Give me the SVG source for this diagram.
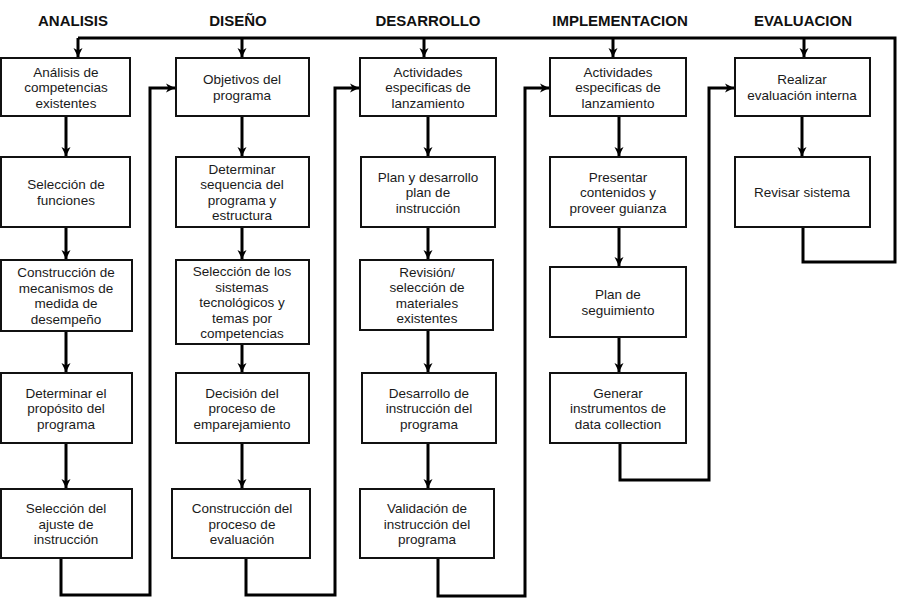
<svg xmlns="http://www.w3.org/2000/svg" width="897" height="606" viewBox="0 0 897 606">
<style>
.box{fill:#fff;stroke:#111;stroke-width:2}
.t{font-family:"Liberation Sans",Arial,sans-serif;font-size:13.5px;fill:#1a1a1a;text-anchor:middle}
.h{font-family:"Liberation Sans",Arial,sans-serif;font-size:15px;font-weight:bold;fill:#111;text-anchor:middle}
.c{fill:none;stroke:#000;stroke-width:3;stroke-linejoin:miter}
.a{fill:none;stroke:#000;stroke-width:3;marker-end:url(#ah)}
</style>
<defs>
<marker id="ah" markerUnits="userSpaceOnUse" markerWidth="10" markerHeight="10" refX="9" refY="5" orient="auto">
<path d="M0,0.5 L9,5 L0,9.5 L2.5,5 Z" fill="#000"/>
</marker>
</defs>
<rect width="897" height="606" fill="#fff"/>
<g id="headers">
<text class="h" x="73" y="26">ANALISIS</text>
<text class="h" x="238" y="26">DISEÑO</text>
<text class="h" x="428" y="26">DESARROLLO</text>
<text class="h" x="620" y="26">IMPLEMENTACION</text>
<text class="h" x="803" y="26">EVALUACION</text>
</g>
<g id="connectors">
<path class="c" d="M803,227 V262 H895 V38 H78"/>
<path class="a" d="M78,38 V57"/>
<path class="a" d="M242,38 V57"/>
<path class="a" d="M424,38 V57"/>
<path class="a" d="M613,38 V57"/>
<path class="a" d="M804,38 V57"/>
<path class="a" d="M66,116 V156"/>
<path class="a" d="M66,227 V259"/>
<path class="a" d="M66,331 V372"/>
<path class="a" d="M66,443 V488"/>
<path class="a" d="M242,116 V156"/>
<path class="a" d="M242,227 V259"/>
<path class="a" d="M242,344 V372"/>
<path class="a" d="M242,443 V488"/>
<path class="a" d="M428,116 V156"/>
<path class="a" d="M428,227 V259"/>
<path class="a" d="M428,330 V372"/>
<path class="a" d="M428,443 V488"/>
<path class="a" d="M619,116 V156"/>
<path class="a" d="M619,227 V266"/>
<path class="a" d="M619,337 V372"/>
<path class="a" d="M802,116 V156"/>
<path class="a" d="M61,558 V595 H150 V88 H175"/>
<path class="a" d="M246,558 V595 H335 V88 H359"/>
<path class="a" d="M438,558 V596 H525 V88 H549"/>
<path class="a" d="M620,443 V480 H709 V88 H734"/>
</g>
<g id="n1_1"><rect class="box" x="1" y="58" width="129" height="58"/><text class="t"><tspan x="66" y="76.5">Análisis de</tspan><tspan x="66" y="92">competencias</tspan><tspan x="66" y="107.5">existentes</tspan></text></g>
<g id="n1_2"><rect class="box" x="1" y="157" width="129" height="70"/><text class="t"><tspan x="66" y="189">Selección de</tspan><tspan x="66" y="205">funciones</tspan></text></g>
<g id="n1_3"><rect class="box" x="1" y="260" width="131" height="71"/><text class="t"><tspan x="66" y="277">Construcción de</tspan><tspan x="66" y="293">mecanismos de</tspan><tspan x="66" y="308">medida de</tspan><tspan x="66" y="324">desempeño</tspan></text></g>
<g id="n1_4"><rect class="box" x="1" y="373" width="131" height="70"/><text class="t"><tspan x="66" y="397.5">Determinar el</tspan><tspan x="66" y="413">propósito del</tspan><tspan x="66" y="428.5">programa</tspan></text></g>
<g id="n1_5"><rect class="box" x="1" y="489" width="131" height="69"/><text class="t"><tspan x="66" y="513">Selección del</tspan><tspan x="66" y="528.5">ajuste de</tspan><tspan x="66" y="544">instrucción</tspan></text></g>
<g id="n2_1"><rect class="box" x="176" y="58" width="133" height="58"/><text class="t"><tspan x="242" y="84">Objetivos del</tspan><tspan x="242" y="100">programa</tspan></text></g>
<g id="n2_2"><rect class="box" x="176" y="157" width="133" height="70"/><text class="t"><tspan x="242" y="174">Determinar</tspan><tspan x="242" y="189">sequencia del</tspan><tspan x="242" y="205">programa  y</tspan><tspan x="242" y="220">estructura</tspan></text></g>
<g id="n2_3"><rect class="box" x="176" y="260" width="133" height="84"/><text class="t"><tspan x="242" y="276">Selección de los</tspan><tspan x="242" y="291.5">sistemas</tspan><tspan x="242" y="307">tecnológicos  y</tspan><tspan x="242" y="322.5">temas por</tspan><tspan x="242" y="338">competencias</tspan></text></g>
<g id="n2_4"><rect class="box" x="176" y="373" width="133" height="70"/><text class="t"><tspan x="242" y="397.5">Decisión del</tspan><tspan x="242" y="413">proceso de</tspan><tspan x="242" y="428.5">emparejamiento</tspan></text></g>
<g id="n2_5"><rect class="box" x="172" y="489" width="138" height="69"/><text class="t"><tspan x="242" y="513">Construcción del</tspan><tspan x="242" y="528.5">proceso de</tspan><tspan x="242" y="544">evaluación</tspan></text></g>
<g id="n3_1"><rect class="box" x="360" y="58" width="136" height="58"/><text class="t"><tspan x="428" y="76.5">Actividades</tspan><tspan x="428" y="92">especificas de</tspan><tspan x="428" y="107.5">lanzamiento</tspan></text></g>
<g id="n3_2"><rect class="box" x="361" y="157" width="134" height="70"/><text class="t"><tspan x="428" y="181.5">Plan y desarrollo</tspan><tspan x="428" y="197">plan de</tspan><tspan x="428" y="212.5">instrucción</tspan></text></g>
<g id="n3_3"><rect class="box" x="360" y="260" width="133" height="70"/><text class="t"><tspan x="427" y="277">Revisión/</tspan><tspan x="427" y="292">selección de</tspan><tspan x="427" y="308">materiales</tspan><tspan x="427" y="323">existentes</tspan></text></g>
<g id="n3_4"><rect class="box" x="362" y="373" width="134" height="70"/><text class="t"><tspan x="429" y="397.5">Desarrollo de</tspan><tspan x="429" y="413">instrucción del</tspan><tspan x="429" y="428.5">programa</tspan></text></g>
<g id="n3_5"><rect class="box" x="360" y="489" width="134" height="69"/><text class="t"><tspan x="427" y="513">Validación de</tspan><tspan x="427" y="528.5">instrucción del</tspan><tspan x="427" y="544">programa</tspan></text></g>
<g id="n4_1"><rect class="box" x="550" y="58" width="136" height="58"/><text class="t"><tspan x="618" y="76.5">Actividades</tspan><tspan x="618" y="92">especificas de</tspan><tspan x="618" y="107.5">lanzamiento</tspan></text></g>
<g id="n4_2"><rect class="box" x="550" y="157" width="136" height="70"/><text class="t"><tspan x="618" y="181.5">Presentar</tspan><tspan x="618" y="197">contenidos y</tspan><tspan x="618" y="212.5">proveer guianza</tspan></text></g>
<g id="n4_3"><rect class="box" x="550" y="267" width="136" height="70"/><text class="t"><tspan x="618" y="299">Plan de</tspan><tspan x="618" y="315">seguimiento</tspan></text></g>
<g id="n4_4"><rect class="box" x="550" y="373" width="136" height="70"/><text class="t"><tspan x="618" y="397.5">Generar</tspan><tspan x="618" y="413">instrumentos de</tspan><tspan x="618" y="428.5">data collection</tspan></text></g>
<g id="n5_1"><rect class="box" x="735" y="58" width="135" height="58"/><text class="t"><tspan x="802" y="84">Realizar</tspan><tspan x="802" y="100">evaluación interna</tspan></text></g>
<g id="n5_2"><rect class="box" x="735" y="157" width="135" height="70"/><text class="t"><tspan x="802" y="197">Revisar sistema</tspan></text></g>
</svg>
